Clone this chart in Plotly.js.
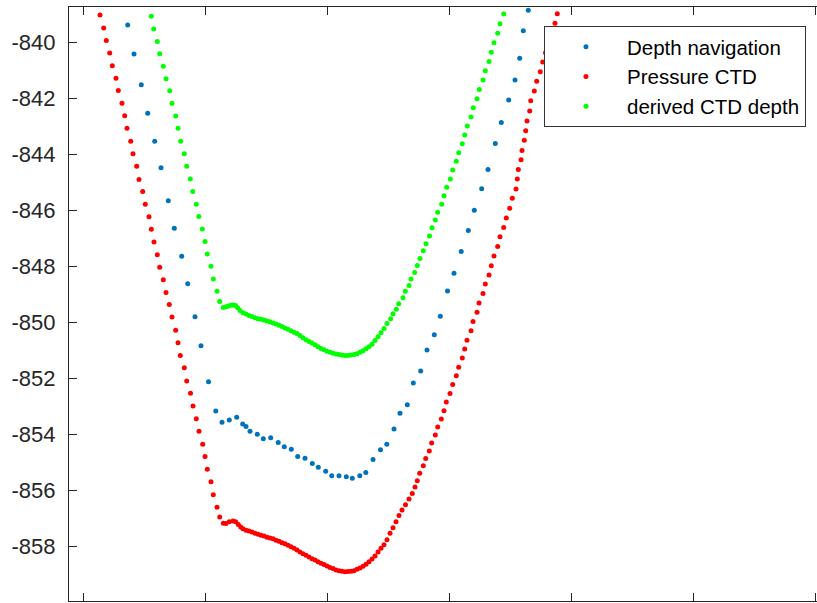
<!DOCTYPE html>
<html>
<head>
<meta charset="utf-8">
<script src="https://cdn.plot.ly/plotly-3.0.1.min.js"></script>
<style>
html,body{margin:0;padding:0;background:#fff;}
#chart{width:817px;height:603px;}
</style>
</head>
<body>
<div id="chart"></div>
<script>
// Series names
var seriesNames = ["Depth navigation", "Pressure CTD", "derived CTD depth"];

// Depth navigation (sparse)
var xNav = [44.7,51,58.3,64.7,71.7,78,85.3,91.3,98.7,104.7,112,118,125.5,132.8,139,146.3,153.7,159.7,163,167,174.3,180.3,187.7,195.2,201.3,208.3,214.7,222,229.3,235.3,242.7,248.7,256,263.3,269.3,276.8,282.8,290,297.5,303.8,311,317,324.3,330.3,337.7,344,351.3,357.3,364.5,371,378.2,385.3,391.3,398.7,405,412.3,418.3,425.7,432,436.7,440.3,445.3];
var yNav = [-839.39,-840.43,-841.53,-842.54,-843.54,-844.49,-845.67,-846.65,-847.65,-848.63,-849.81,-850.85,-852.13,-853.18,-853.58,-853.50,-853.40,-853.64,-853.73,-853.90,-854.01,-854.17,-854.13,-854.30,-854.45,-854.54,-854.80,-854.86,-855.05,-855.18,-855.33,-855.49,-855.49,-855.52,-855.58,-855.49,-855.37,-854.91,-854.56,-854.36,-853.82,-853.26,-852.95,-852.18,-851.75,-851.00,-850.45,-849.79,-848.89,-848.26,-847.48,-846.73,-846.01,-845.24,-844.55,-843.62,-842.87,-842.07,-841.36,-840.58,-839.60,-838.87];

// Pressure CTD
var xPres = [17,20.7,23.3,26.7,29.3,33,35.3,39,41.7,44,47.7,50,53.7,56,59.7,62.3,66,68.3,71,74.3,76.7,80.3,83,86.3,89,92.7,95,97.3,101.3,103.7,107.5,110,113.3,116,119.7,122,124.3,128,130.3,134,136.7,140.3,143,146.3,150,152.7,155.3,157.7,
  160,163,166,169,172,175,178,181,184,187,190,193,196,199,202,205,208,211,214,217,220,223,226,229,232,235,238,241,244,247,250,253,256,259,262,265,268,271,274,277,280,283,286,289,292,295,298,301,304,307,
  310,313,316,319,322.5,326,329.3,332,334.3,336.7,340.3,342.7,346.3,348.7,352.3,354.7,358.3,361,363.3,367,369.7,373.3,375.7,379.3,381.7,384,388,390,394,396,400,402.3,406,408.3,411,414.7,417,420.7,423.3,426.7,429.3,433,434.3,435.3,438,439,441.3,442.7,444,446.7,447.7,451.3,453.7,457.3,459.7,462.5,465,468,472,474.3];
var yPres = [-839.04,-839.50,-839.95,-840.39,-840.85,-841.29,-841.73,-842.19,-842.63,-843.08,-843.54,-843.99,-844.44,-844.91,-845.34,-845.79,-846.24,-846.69,-847.14,-847.60,-848.04,-848.49,-848.94,-849.37,-849.82,-850.29,-850.74,-851.19,-851.63,-852.10,-852.54,-853.00,-853.45,-853.90,-854.36,-854.80,-855.26,-855.70,-856.17,-856.61,-856.96,-857.18,-857.19,-857.13,-857.10,-857.13,-857.23,-857.32,
  -857.38,-857.43,-857.46,-857.50,-857.54,-857.58,-857.61,-857.64,-857.68,-857.71,-857.74,-857.79,-857.83,-857.88,-857.92,-857.97,-858.02,-858.08,-858.14,-858.21,-858.27,-858.33,-858.39,-858.45,-858.50,-858.56,-858.61,-858.66,-858.71,-858.76,-858.80,-858.85,-858.88,-858.90,-858.92,-858.91,-858.90,-858.88,-858.83,-858.78,-858.72,-858.65,-858.56,-858.46,-858.35,-858.21,-858.08,-857.95,-857.77,-857.54,
  -857.34,-857.13,-856.91,-856.71,-856.52,-856.32,-856.12,-855.89,-855.67,-855.40,-855.13,-854.87,-854.60,-854.32,-854.03,-853.75,-853.46,-853.17,-852.85,-852.55,-852.23,-851.92,-851.61,-851.28,-850.96,-850.65,-850.31,-849.98,-849.65,-849.32,-848.98,-848.64,-848.32,-847.99,-847.64,-847.30,-846.95,-846.62,-846.28,-845.94,-845.58,-845.25,-844.89,-844.55,-844.20,-843.87,-843.51,-843.17,-842.82,-842.46,-842.10,-841.75,-841.40,-841.06,-840.71,-840.38,-840.04,-839.68,-839.33,-838.99];

// derived CTD depth
var xDer = [68.3,70.7,74.3,76.7,80.3,83,86.7,89,92.7,95,97.7,101.3,103.7,107.3,109.7,113.3,115.8,119.3,122,124.3,128,130.3,134,136.7,140.3,143,145.5,148,150.3,152.5,154.7,157,
  160,163,166,169,172,175,178,181,184,187,190,193,196,199,202,205,208,211,214,217,220,223,226,229,232,235,238,241,244,247,250,253,256,259,262,265,268,271,274,277,280,283,286,289,292,295,298,301,304,
  307.7,310,313.3,315.7,320,322.3,326,328,331.7,334.3,337,340.3,343,346.5,349,352.3,354.7,358.7,361,363.7,367.3,369.7,373.3,375.7,379.3,381.7,384.3,388,390.3,394,396.3,400,402.3,406,408.3,411,414.7,417,420.7];
var yDer = [-839.08,-839.54,-839.98,-840.42,-840.87,-841.31,-841.74,-842.19,-842.64,-843.08,-843.54,-843.99,-844.44,-844.89,-845.34,-845.79,-846.23,-846.68,-847.12,-847.57,-848.01,-848.46,-848.90,-849.27,-849.48,-849.45,-849.43,-849.40,-849.39,-849.41,-849.49,-849.59,
  -849.67,-849.71,-849.77,-849.80,-849.85,-849.88,-849.90,-849.93,-849.96,-849.99,-850.03,-850.07,-850.11,-850.16,-850.21,-850.26,-850.31,-850.36,-850.41,-850.48,-850.56,-850.63,-850.69,-850.75,-850.81,-850.88,-850.94,-850.99,-851.04,-851.08,-851.11,-851.14,-851.16,-851.18,-851.19,-851.19,-851.18,-851.16,-851.13,-851.08,-851.02,-850.95,-850.88,-850.79,-850.66,-850.52,-850.38,-850.23,-850.05,
  -849.88,-849.70,-849.54,-849.35,-849.13,-848.90,-848.69,-848.46,-848.23,-847.98,-847.73,-847.45,-847.20,-846.93,-846.63,-846.36,-846.08,-845.79,-845.49,-845.19,-844.89,-844.57,-844.26,-843.95,-843.63,-843.32,-843.00,-842.68,-842.35,-842.03,-841.70,-841.36,-841.03,-840.70,-840.37,-840.03,-839.69,-839.35,-839.00];

// Tick labels
var yTickVals = [-858,-856,-854,-852,-850,-848,-846,-844,-842,-840];
var yTickText = ["-858","-856","-854","-852","-850","-848","-846","-844","-842","-840"];
var xTickVals = [0,122,244,366,488,610,732];

var colors = ["#0072BD", "#FF0000", "#00FF00"];
var font = "Liberation Sans, Arial, Helvetica, sans-serif";

var traces = [
  {x: xNav, y: yNav, name: seriesNames[0], type: "scatter", mode: "markers",
   marker: {color: colors[0], size: 5}},
  {x: xPres, y: yPres, name: seriesNames[1], type: "scatter", mode: "markers",
   marker: {color: colors[1], size: 5}},
  {x: xDer, y: yDer, name: seriesNames[2], type: "scatter", mode: "markers",
   marker: {color: colors[2], size: 5}}
];

var layout = {
  width: 817, height: 603,
  margin: {l: 69, r: 0, t: 7, b: 2, pad: 0},
  paper_bgcolor: "#ffffff",
  plot_bgcolor: "#ffffff",
  font: {family: font, size: 21, color: "#262626"},
  showlegend: true,
  xaxis: {
    range: [-14, 734],
    tickvals: xTickVals,
    showticklabels: false,
    ticks: "inside", ticklen: 8, tickwidth: 1, tickcolor: "#262626",
    showline: true, linecolor: "#262626", linewidth: 1,
    mirror: "ticks",
    showgrid: false, zeroline: false
  },
  yaxis: {
    range: [-859.96, -838.75],
    tickvals: yTickVals,
    ticktext: yTickText,
    tickfont: {family: font, size: 22, color: "#262626"},
    ticks: "inside", ticklen: 8, tickwidth: 1, tickcolor: "#262626",
    ticklabelstandoff: 8,
    showline: true, linecolor: "#262626", linewidth: 1,
    showgrid: false, zeroline: false
  },
  legend: {
    x: 0.635, xanchor: "left",
    y: 0.968, yanchor: "top",
    bgcolor: "#ffffff",
    bordercolor: "#333333",
    borderwidth: 1,
    font: {family: font, size: 20.5, color: "#000000"},
    itemwidth: 72,
    tracegroupgap: 0
  }
};

Plotly.newPlot("chart", traces, layout, {displayModeBar: false, staticPlot: true});
</script>
</body>
</html>
